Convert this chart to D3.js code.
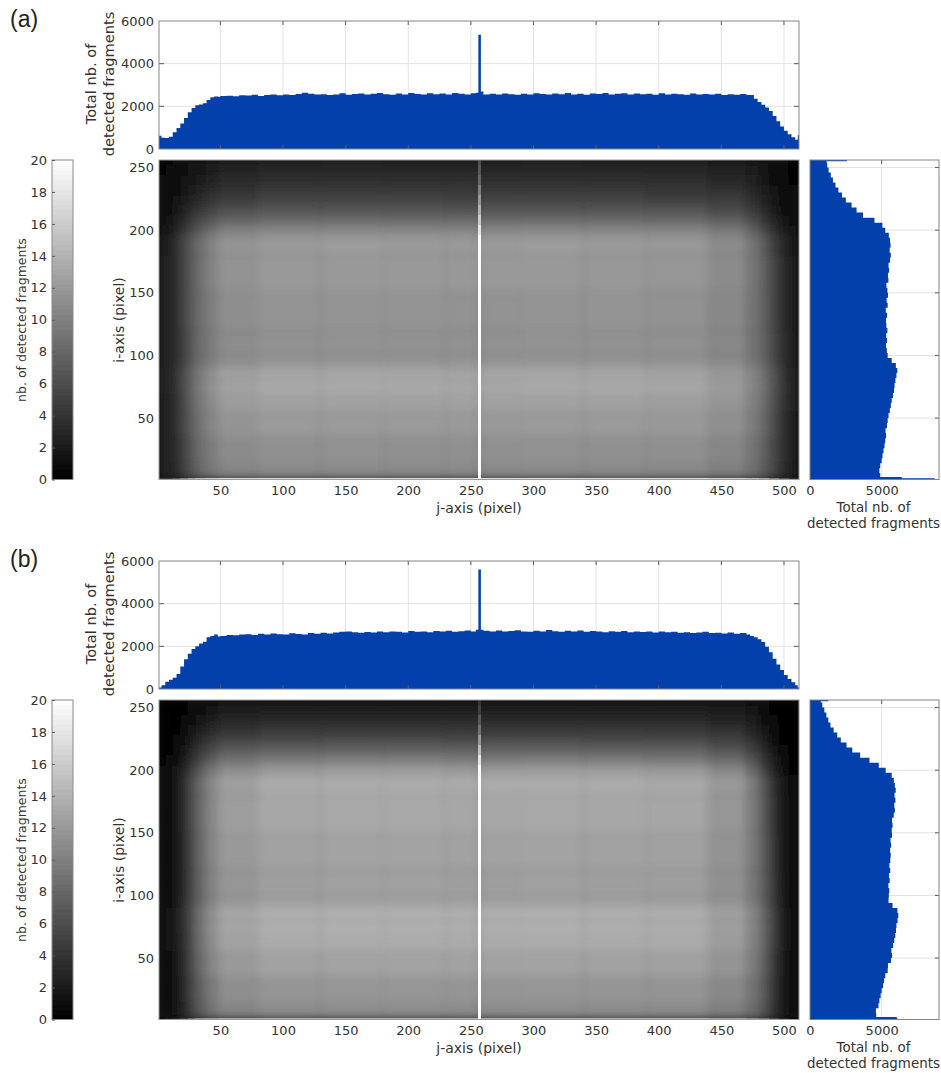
<!DOCTYPE html>
<html>
<head>
<meta charset="utf-8">
<script src="https://d3js.org/d3.v7.min.js"></script>
<style>
    body { margin: 0; background: #fff; }
    svg { display: block; }
    text { font-family: "DejaVu Sans", sans-serif; fill: #333; }
</style>
</head>
<body>
<svg id="chart" width="941" height="1073"></svg>
<script>
// --- 1. DATA ---

var jTicks = [50, 100, 150, 200, 250, 300, 350, 400, 450, 500];
var iTicks = [50, 100, 150, 200, 250];
var topTicks = [0, 2000, 4000, 6000];
var sideTicks = [0, 5000];
var barTicks = [0, 2, 4, 6, 8, 10, 12, 14, 16, 18, 20];

// column totals: value holds from this j until the next one
var topJ = [1, 3, 6, 9, 12, 15, 18, 21, 24, 27, 30, 33, 36, 39, 42, 45, 48,
    50, 55, 60, 65, 70, 75, 80, 85, 90, 95,
    100, 105, 110, 115, 120, 125, 130, 135, 140, 145,
    150, 155, 160, 165, 170, 175, 180, 185, 190, 195,
    200, 205, 210, 215, 220, 225, 230, 235, 240, 245, 250,
    254, 256, 258,
    260, 265, 270, 275, 280, 285, 290, 295, 300, 305,
    310, 315, 320, 325, 330, 335, 340, 345, 350, 355,
    360, 365, 370, 375, 380, 385, 390, 395, 400, 405,
    410, 415, 420, 425, 430, 435, 440, 445, 450, 455,
    460, 465, 470,
    473, 476, 479, 482, 485, 488, 491, 494, 497, 500, 503, 506, 509, 511, 512];

var topA = [620, 530, 520, 580, 790, 980, 1200, 1450, 1720, 1920, 2050, 2090, 2150, 2300, 2420, 2460, 2450,
    2480, 2500, 2470, 2520, 2510, 2540, 2490, 2530, 2550, 2520,
    2560, 2530, 2580, 2640, 2590, 2550, 2570, 2530, 2560, 2610,
    2540, 2580, 2600, 2550, 2590, 2620, 2570, 2540, 2600, 2560,
    2630, 2580, 2550, 2610, 2570, 2600, 2560, 2620, 2590, 2550, 2610,
    2640, 5350, 2700,
    2560, 2590, 2550, 2600, 2570, 2540, 2590, 2560, 2610, 2580,
    2550, 2600, 2570, 2620, 2560, 2590, 2540, 2600, 2580, 2620,
    2560, 2590, 2610, 2550, 2600, 2570, 2590, 2540, 2610, 2560,
    2590, 2570, 2540, 2600, 2560, 2580, 2550, 2590, 2530, 2570,
    2540, 2580, 2530,
    2530, 2350, 2200, 2080, 1950, 1780, 1550, 1300, 1050, 860, 690, 550, 430, 640, 640];

var topB = [70, 170, 340, 430, 530, 700, 1050, 1400, 1650, 1880, 2000, 2130, 2220, 2420, 2480, 2560, 2460,
    2480, 2530, 2520, 2550, 2570, 2530, 2590, 2550, 2600, 2570,
    2560, 2610, 2580, 2560, 2620, 2590, 2640, 2600, 2650, 2680,
    2700, 2660, 2640, 2670, 2650, 2690, 2660, 2700, 2680, 2650,
    2720, 2680, 2700, 2660, 2720, 2690, 2730, 2680, 2710, 2740, 2700,
    2780, 5600, 2780,
    2730, 2700, 2740, 2690, 2720, 2750, 2700, 2680, 2730, 2700,
    2760, 2710, 2680, 2730, 2700, 2740, 2680, 2720, 2690, 2660,
    2710, 2680, 2720, 2660, 2700, 2670, 2690, 2650, 2700, 2660,
    2680, 2640, 2660, 2620, 2650, 2680, 2620, 2640, 2600, 2650,
    2590, 2620, 2560,
    2480, 2420, 2330, 2200, 1980, 1720, 1420, 1150, 890, 660, 470, 320, 170, 70, 30];

// row totals: value holds from this i until the next one
var sideI = [1, 2, 3,
    6, 10, 14, 18, 22, 26, 30, 34, 38, 42,
    46, 50, 54, 58, 62, 66, 70, 74, 78, 82,
    86, 90, 94, 98, 102, 106, 110, 114, 118, 122,
    126, 130, 134, 138, 142, 146, 150, 154, 158, 162,
    166, 170, 174, 178, 182, 186, 190, 194, 198, 202,
    206, 210, 214, 218, 222, 226, 230, 234, 238, 242,
    246, 250, 254, 255, 256];

var sideA = [8700, 6400, 4900,
    4840, 4900, 5000, 5060, 5130, 5200, 5250, 5310, 5270, 5370,
    5420, 5480, 5570, 5640, 5700, 5790, 5860, 5900, 5960, 6030,
    6090, 5990, 5700, 5420, 5360, 5300, 5370, 5320, 5400, 5330,
    5300, 5380, 5290, 5420, 5350, 5440, 5400, 5330, 5470, 5440,
    5520, 5480, 5580, 5640, 5560, 5620, 5580, 5500, 5250, 5050,
    4500, 3700, 3250, 2900, 2500, 2230, 1980, 1780, 1600, 1450,
    1300, 1200, 1150, 2570, 2570];

var sideB = [6100, 6050, 4620,
    4600, 4780, 4840, 4930, 5000, 5100, 5170, 5250, 5420, 5440,
    5650, 5720, 5680, 5800, 5880, 5950, 6000, 6030, 6110, 6160,
    6100, 5760, 5480, 5500, 5530, 5470, 5560, 5510, 5600, 5540,
    5600, 5630, 5590, 5660, 5620, 5720, 5700, 5760, 5720, 5840,
    5920, 5880, 5960, 5900, 5980, 5920, 5850, 5700, 5280, 4800,
    4150, 3500, 2950, 2550, 2150, 1900, 1650, 1430, 1280, 1140,
    1000, 860, 750, 1280, 1280];

// Heatmap: mean count of each region estimated by eye. The per-pixel grain of the
// reference cannot be read, so it is not reproduced.
var heatJ = [1, 6, 12, 18, 24, 30, 38, 48, 80, 130, 180, 230, 256, 258, 290, 340, 390, 440, 470, 480, 488, 496, 504, 512];
var heatI = [256, 252, 244, 236, 228, 220, 212, 204, 196, 180, 150, 120, 100, 90, 80, 70, 55, 35, 15, 4, 2, 1];

var heatA = [
    [.4, .5, .8, 1.1, 1.4, 1.7, 2.1, 2.6, 2.8, 2.9, 2.8, 2.7, 6, 2.8, 2.9, 2.8, 2.7, 2.4, 1.9, 1.4, .9, .6, .4],
    [.5, .6, .9, 1.2, 1.5, 1.9, 2.3, 2.8, 3.1, 3.1, 3, 3, 7, 3, 3.1, 3, 2.9, 2.6, 2.1, 1.5, 1, .6, .4],
    [.6, .7, 1, 1.4, 1.8, 2.2, 2.7, 3.3, 3.7, 3.7, 3.6, 3.6, 8, 3.6, 3.7, 3.6, 3.5, 3.1, 2.5, 1.8, 1.2, .7, .5],
    [.7, .8, 1.2, 1.7, 2.2, 2.7, 3.3, 4, 4.4, 4.5, 4.4, 4.3, 10, 4.4, 4.5, 4.4, 4.2, 3.8, 3, 2.2, 1.4, .8, .6],
    [.8, 1, 1.4, 2.1, 2.7, 3.4, 4.2, 4.9, 5.3, 5.4, 5.3, 5.2, 12, 5.3, 5.4, 5.3, 5.1, 4.7, 3.7, 2.7, 1.7, 1, .7],
    [1, 1.2, 1.8, 2.7, 3.5, 4.4, 5.3, 6.2, 6.6, 6.7, 6.6, 6.5, 14, 6.6, 6.7, 6.6, 6.4, 5.8, 4.6, 3.4, 2.1, 1.2, .8],
    [1.3, 1.5, 2.3, 3.4, 4.5, 5.7, 6.8, 7.9, 8.4, 8.5, 8.4, 8.3, 16, 8.4, 8.5, 8.4, 8.2, 7.4, 5.9, 4.4, 2.8, 1.6, 1.1],
    [1.7, 1.9, 2.9, 4.4, 5.7, 7.2, 8.6, 10, 10.6, 10.7, 10.6, 10.5, 18, 10.6, 10.7, 10.6, 10.4, 9.4, 7.6, 5.6, 3.6, 2.1, 1.4],
    [2.4, 2.4, 3.6, 5.5, 7.1, 8.8, 10.3, 11.6, 12.1, 12.2, 12.1, 12, 20, 12.1, 12.2, 12.1, 11.9, 10.9, 9.2, 7.2, 4.9, 2.9, 1.9],
    [2.5, 2.5, 3.7, 5.6, 7.2, 8.9, 10.3, 11.5, 12, 12, 12, 11.9, 20, 12, 12, 11.9, 11.8, 10.9, 9.3, 7.6, 5.3, 3.2, 2],
    [2.5, 2.5, 3.6, 5.5, 7.1, 8.7, 10, 11.1, 11.6, 11.6, 11.6, 11.5, 20, 11.5, 11.6, 11.6, 11.4, 10.7, 9.2, 7.6, 5.4, 3.4, 2.1],
    [2.5, 2.5, 3.6, 5.4, 7, 8.6, 9.9, 11, 11.4, 11.5, 11.4, 11.4, 20, 11.4, 11.5, 11.4, 11.3, 10.6, 9.2, 7.7, 5.6, 3.5, 2.2],
    [2.6, 2.6, 3.7, 5.5, 7.1, 8.8, 10.1, 11.2, 11.7, 11.7, 11.7, 11.6, 20, 11.6, 11.7, 11.7, 11.5, 10.8, 9.4, 7.9, 5.7, 3.7, 2.3],
    [2.9, 2.9, 4.1, 6.1, 7.9, 9.9, 11.4, 12.6, 13.1, 13.2, 13.1, 13, 20, 13.1, 13.2, 13.1, 12.9, 12.1, 10.6, 8.8, 6.4, 4, 2.6],
    [2.9, 2.9, 4.2, 6.2, 8, 10, 11.5, 12.8, 13.3, 13.3, 13.3, 13.2, 20, 13.2, 13.3, 13.3, 13.1, 12.2, 10.7, 8.9, 6.5, 4.1, 2.6],
    [2.8, 2.8, 4, 5.9, 7.7, 9.5, 11, 12.2, 12.7, 12.7, 12.7, 12.6, 20, 12.6, 12.7, 12.7, 12.5, 11.7, 10.2, 8.5, 6.2, 3.9, 2.5],
    [2.7, 2.7, 3.8, 5.7, 7.3, 9.1, 10.5, 11.6, 12.1, 12.1, 12.1, 12, 20, 12, 12.1, 12.1, 11.9, 11.2, 9.7, 8.1, 5.9, 3.7, 2.4],
    [2.6, 2.6, 3.6, 5.3, 6.9, 8.6, 9.9, 10.9, 11.3, 11.4, 11.3, 11.3, 20, 11.3, 11.4, 11.3, 11.2, 10.5, 9.1, 7.6, 5.5, 3.5, 2.3],
    [2.5, 2.5, 3.4, 5.1, 6.6, 8.2, 9.5, 10.4, 10.8, 10.9, 10.8, 10.8, 20, 10.8, 10.9, 10.8, 10.7, 10, 8.7, 7.2, 5.3, 3.4, 2.2],
    [2.4, 2.4, 3.4, 5, 6.5, 8, 9.3, 10.2, 10.6, 10.7, 10.6, 10.6, 20, 10.6, 10.7, 10.6, 10.5, 9.8, 8.5, 7.1, 5.2, 3.3, 2.2],
    [5, 5, 7, 10, 13, 15, 16, 17, 17.5, 17.5, 17.5, 17.5, 20, 17.5, 17.5, 17.5, 17.5, 16.5, 15, 13, 10, 7, 4]
];

var heatB = [
    [.1, .1, .2, .3, .6, .9, 1.3, 1.6, 1.8, 1.9, 1.9, 1.9, 4, 1.9, 1.9, 1.9, 1.8, 1.6, 1.1, .7, .3, .1, .1],
    [.1, .2, .3, .5, .8, 1.2, 1.7, 2.1, 2.3, 2.4, 2.4, 2.4, 5, 2.4, 2.4, 2.4, 2.3, 2, 1.5, .9, .4, .2, .1],
    [.2, .2, .4, .7, 1.1, 1.7, 2.3, 2.9, 3.2, 3.3, 3.3, 3.2, 7, 3.3, 3.3, 3.3, 3.2, 2.8, 2, 1.3, .6, .2, .1],
    [.2, .3, .5, 1, 1.6, 2.4, 3.2, 4, 4.4, 4.5, 4.5, 4.4, 9, 4.5, 4.5, 4.5, 4.3, 3.8, 2.8, 1.8, .8, .3, .1],
    [.3, .4, .7, 1.3, 2.1, 3.2, 4.3, 5.3, 5.8, 5.9, 5.9, 5.8, 12, 5.9, 5.9, 5.8, 5.7, 5, 3.8, 2.4, 1.1, .4, .2],
    [.3, .5, .9, 1.7, 2.9, 4.3, 5.7, 7.1, 7.7, 7.8, 7.8, 7.7, 15, 7.8, 7.8, 7.7, 7.5, 6.6, 5, 3.2, 1.5, .6, .2],
    [.4, .7, 1.1, 2.2, 3.7, 5.5, 7.3, 9, 9.8, 10, 10, 9.8, 18, 9.9, 10, 9.9, 9.6, 8.5, 6.4, 4.1, 2, .8, .3],
    [.6, 1, 1.5, 2.9, 4.9, 7.1, 9.3, 11.1, 12.1, 12.3, 12.3, 12.1, 20, 12.2, 12.3, 12.2, 12, 10.7, 8.1, 5.2, 2.7, 1.1, .5],
    [.7, 1.3, 1.9, 3.5, 5.9, 8.3, 10.7, 12.5, 13.3, 13.4, 13.4, 13.3, 20, 13.4, 13.4, 13.4, 13.2, 12, 9.7, 6.6, 3.6, 1.5, .7],
    [.7, 1.3, 1.9, 3.5, 5.9, 8.3, 10.7, 12.4, 13.1, 13.2, 13.2, 13.1, 20, 13.1, 13.2, 13.1, 13, 11.8, 9.7, 7, 3.9, 1.6, .7],
    [.7, 1.3, 1.8, 3.4, 5.7, 8.1, 10.4, 12, 12.7, 12.8, 12.8, 12.7, 20, 12.7, 12.8, 12.7, 12.6, 11.5, 9.6, 7.1, 4.1, 1.7, .8],
    [.7, 1.3, 1.8, 3.4, 5.6, 8, 10.2, 11.8, 12.5, 12.6, 12.6, 12.5, 20, 12.5, 12.6, 12.5, 12.4, 11.3, 9.5, 7.2, 4.3, 1.8, .8],
    [.7, 1.3, 1.9, 3.5, 5.7, 8.1, 10.4, 11.9, 12.6, 12.7, 12.7, 12.6, 20, 12.6, 12.7, 12.6, 12.5, 11.5, 9.7, 7.3, 4.4, 1.9, .8],
    [.8, 1.4, 2.1, 3.8, 6.3, 9, 11.4, 13.1, 13.8, 13.9, 13.9, 13.8, 20, 13.8, 13.9, 13.8, 13.7, 12.6, 10.6, 8.1, 4.9, 2.1, .9],
    [.8, 1.4, 2.1, 3.8, 6.3, 9, 11.3, 13, 13.7, 13.8, 13.8, 13.7, 20, 13.7, 13.8, 13.7, 13.6, 12.5, 10.6, 8, 4.9, 2.1, .9],
    [.8, 1.4, 2, 3.7, 6.1, 8.8, 11, 12.7, 13.4, 13.5, 13.5, 13.4, 20, 13.4, 13.5, 13.4, 13.3, 12.2, 10.3, 7.9, 4.8, 2, .9],
    [.7, 1.3, 1.9, 3.5, 5.8, 8.3, 10.4, 12, 12.7, 12.8, 12.8, 12.7, 20, 12.7, 12.8, 12.7, 12.6, 11.6, 9.8, 7.4, 4.5, 1.9, .8],
    [.7, 1.2, 1.8, 3.2, 5.3, 7.6, 9.6, 11.1, 11.7, 11.8, 11.8, 11.7, 20, 11.7, 11.8, 11.7, 11.6, 10.7, 9, 6.9, 4.2, 1.8, .8],
    [.6, 1.1, 1.7, 3, 5, 7.2, 9, 10.4, 11, 11.1, 11.1, 11, 20, 11, 11.1, 11, 10.9, 10, 8.5, 6.5, 4, 1.7, .7],
    [.6, 1.1, 1.6, 2.9, 4.9, 7, 8.8, 10.1, 10.7, 10.8, 10.8, 10.7, 20, 10.7, 10.8, 10.7, 10.6, 9.7, 8.3, 6.4, 3.9, 1.7, .7],
    [1, 2, 3, 5, 8, 11, 12, 13, 13.5, 13.5, 13.5, 13.5, 20, 13.5, 13.5, 13.5, 13.5, 12.5, 11, 9, 6, 3, 1]
];

// --- 2. LAYOUT AND SCALES ---

var BLUE = "#0340ab";
var GRID = "#e2e2e2";
var FRAME = "#858585";
var TICK = "#5c5c5c";
var FONT = 13;

var xj = d3.scaleLinear().domain([1, 512]).range([159, 799]);
var yTop = d3.scaleLinear().domain([0, 6000]).range([149, 21]);
var yi = d3.scaleLinear().domain([1, 256]).range([479.5, 160]);
var xSide = d3.scaleLinear().domain([0, 9000]).range([810, 939]);
var yBar = d3.scaleLinear().domain([0, 20]).range([479.5, 160]);
var grey = d3.scaleLinear().domain([0, 20]).range(["#000", "#fff"]).clamp(true);
var plain = d3.format("d");

var svg = d3.select("#chart");

// soft blur for the heatmap mosaic, so its region boundaries don't show as blocks
var defs = svg.append("defs");
defs.append("filter").attr("id", "soften")
    .append("feGaussianBlur").attr("stdDeviation", 4);
defs.append("clipPath").attr("id", "heatClip")
    .append("rect")
    .attr("x", xj(1)).attr("y", yi(256))
    .attr("width", xj(512) - xj(1)).attr("height", yi(1) - yi(256));

// --- 3. DRAWING ---

function drawFrame(g, x0, y0, x1, y1, color) {
    g.append("rect")
        .attr("x", x0).attr("y", y0)
        .attr("width", x1 - x0).attr("height", y1 - y0)
        .attr("fill", "none")
        .attr("stroke", color || FRAME);
}

function styleAxis(axis) {
    axis.select(".domain").remove();
    axis.selectAll("text")
        .style("font-size", FONT + "px")
        .style("font-family", '"DejaVu Sans"')
        .attr("fill", "#333");
}

function drawTopHist(g, values) {
    var grid = g.append("g").attr("stroke", GRID);
    grid.selectAll("line.v").data(jTicks).enter().append("line").attr("class", "v")
        .attr("x1", xj).attr("x2", xj).attr("y1", yTop(0)).attr("y2", yTop(6000));
    grid.selectAll("line.h").data(topTicks.slice(1, 3)).enter().append("line").attr("class", "h")
        .attr("x1", xj(1)).attr("x2", xj(512)).attr("y1", yTop).attr("y2", yTop);

    var area = d3.area()
        .x(function (d, k) { return xj(topJ[k]); })
        .y0(yTop(0))
        .y1(function (d) { return yTop(d); })
        .curve(d3.curveStepAfter);
    g.append("path").attr("d", area(values)).attr("fill", BLUE);

    // inward ticks, MATLAB style
    var ticks = g.append("g").attr("stroke", TICK);
    jTicks.forEach(function (t) {
        ticks.append("line").attr("x1", xj(t)).attr("x2", xj(t)).attr("y1", yTop(6000)).attr("y2", yTop(6000) + 4);
        ticks.append("line").attr("x1", xj(t)).attr("x2", xj(t)).attr("y1", yTop(0)).attr("y2", yTop(0) - 4);
    });
    topTicks.slice(1, 3).forEach(function (t) {
        ticks.append("line").attr("x1", xj(1)).attr("x2", xj(1) + 5).attr("y1", yTop(t)).attr("y2", yTop(t));
        ticks.append("line").attr("x1", xj(512) - 5).attr("x2", xj(512)).attr("y1", yTop(t)).attr("y2", yTop(t));
    });
    drawFrame(g, xj(1), yTop(6000), xj(512), yTop(0));

    g.append("g")
        .attr("transform", "translate(" + xj(1) + ",0)")
        .call(d3.axisLeft(yTop).tickValues(topTicks).tickFormat(plain).tickSize(0).tickPadding(5))
        .call(styleAxis);

    var label = g.append("text")
        .attr("transform", "translate(96,84) rotate(-90)")
        .attr("text-anchor", "middle")
        .style("font-size", "14.6px");
    label.append("tspan").attr("x", 0).attr("dy", 0).text("Total nb. of");
    label.append("tspan").attr("x", 0).attr("dy", 18).text("detected fragments");
}

function drawHeat(g, grid) {
    var lastRow = grid.length - 1;
    var spikeCol = heatJ.indexOf(256);

    function addCell(layer, r, c, value) {
        layer.append("rect")
            .attr("x", xj(heatJ[c]))
            .attr("width", xj(heatJ[c + 1]) - xj(heatJ[c]))
            .attr("y", yi(heatI[r]))
            .attr("height", yi(heatI[r + 1]) - yi(heatI[r]))
            .attr("fill", grey(value));
    }

    var clipped = g.append("g").attr("clip-path", "url(#heatClip)");
    // dark backing: the blur fades towards it at the frame instead of towards white
    clipped.append("rect")
        .attr("x", xj(1)).attr("y", yi(256))
        .attr("width", xj(512) - xj(1)).attr("height", yi(1) - yi(256))
        .attr("fill", "#111");

    // smooth field: bright last row and column j=256 are left out and drawn sharp on top
    var field = clipped.append("g").attr("filter", "url(#soften)");
    grid.forEach(function (row, r) {
        row.forEach(function (v, c) {
            var src = grid[Math.min(r, lastRow - 1)];
            addCell(field, r, c, src[c === spikeCol ? c - 1 : c]);
        });
    });

    var sharp = clipped.append("g").attr("shape-rendering", "crispEdges");
    grid.forEach(function (row, r) { addCell(sharp, r, spikeCol, row[spikeCol]); });
    grid[lastRow].forEach(function (v, c) { addCell(sharp, lastRow, c, v); });

    drawFrame(g, xj(1), yi(256), xj(512), yi(1), "#9a9a9a");

    g.append("g")
        .attr("transform", "translate(0," + yi(1) + ")")
        .call(d3.axisBottom(xj).tickValues(jTicks).tickSize(0).tickPadding(6))
        .call(styleAxis);
    g.append("g")
        .attr("transform", "translate(" + xj(1) + ",0)")
        .call(d3.axisLeft(yi).tickValues(iTicks).tickSize(0).tickPadding(5))
        .call(styleAxis);

    g.append("text")
        .attr("x", 479).attr("y", 513)
        .attr("text-anchor", "middle")
        .style("font-size", "14px")
        .text("j-axis (pixel)");
    g.append("text")
        .attr("transform", "translate(124,320) rotate(-90)")
        .attr("text-anchor", "middle")
        .style("font-size", "14px")
        .text("i-axis (pixel)");
}

function drawSideHist(g, values) {
    var grid = g.append("g").attr("stroke", GRID);
    grid.selectAll("line.h").data(iTicks).enter().append("line").attr("class", "h")
        .attr("x1", xSide(0)).attr("x2", xSide(9000)).attr("y1", yi).attr("y2", yi);
    grid.append("line")
        .attr("x1", xSide(5000)).attr("x2", xSide(5000)).attr("y1", yi(1)).attr("y2", yi(256));

    // value holds from this i to the next one, which means stepping before along y
    var area = d3.area()
        .y(function (d, k) { return yi(sideI[k]); })
        .x0(xSide(0))
        .x1(function (d) { return xSide(d); })
        .curve(d3.curveStepBefore);
    g.append("path").attr("d", area(values)).attr("fill", BLUE);

    var ticks = g.append("g").attr("stroke", TICK);
    iTicks.forEach(function (t) {
        ticks.append("line").attr("x1", xSide(9000) - 4).attr("x2", xSide(9000)).attr("y1", yi(t)).attr("y2", yi(t));
    });
    ticks.append("line").attr("x1", xSide(5000)).attr("x2", xSide(5000)).attr("y1", yi(256)).attr("y2", yi(256) + 4);
    drawFrame(g, xSide(0), yi(256), xSide(9000), yi(1));

    g.append("g")
        .attr("transform", "translate(0," + yi(1) + ")")
        .call(d3.axisBottom(xSide).tickValues(sideTicks).tickFormat(plain).tickSize(0).tickPadding(6))
        .call(styleAxis);

    var label = g.append("text").attr("text-anchor", "middle").style("font-size", "13.4px");
    label.append("tspan").attr("x", 873.5).attr("y", 512).text("Total nb. of");
    label.append("tspan").attr("x", 873.5).attr("y", 527.5).text("detected fragments");
}

function drawColorbar(g) {
    var levels = d3.range(64).map(function (k) { return k * 20 / 64; });
    g.append("g").attr("shape-rendering", "crispEdges")
        .selectAll("rect").data(levels).enter().append("rect")
        .attr("x", 52).attr("width", 21)
        .attr("y", function (d) { return yBar(d + 20 / 64); })
        .attr("height", function (d) { return yBar(d) - yBar(d + 20 / 64) + 0.5; })
        .attr("fill", function (d) { return grey(d + 10 / 64); });
    drawFrame(g, 52, yBar(20), 73, yBar(0), "#8a8a8a");

    var axis = g.append("g")
        .attr("transform", "translate(52,0)")
        .call(d3.axisLeft(yBar).tickValues(barTicks).tickSize(-3).tickPadding(5))
        .call(styleAxis);
    axis.selectAll("line").attr("stroke", TICK);

    g.append("text")
        .attr("transform", "translate(26,320) rotate(-90)")
        .attr("text-anchor", "middle")
        .style("font-size", "12.5px")
        .text("nb. of detected fragments");
}

function drawPanel(name, dy, topValues, heatValues, sideValues) {
    var g = svg.append("g").attr("transform", "translate(0," + dy + ")");
    g.append("text")
        .attr("x", 10).attr("y", 27)
        .style("font-family", '"Liberation Sans", Arial, sans-serif')
        .style("font-size", "23px")
        .style("fill", "#222")
        .text(name);
    drawColorbar(g);
    drawTopHist(g, topValues);
    drawHeat(g, heatValues);
    drawSideHist(g, sideValues);
}

drawPanel("(a)", 0, topA, heatA, sideA);
drawPanel("(b)", 540, topB, heatB, sideB);
</script>
</body>
</html>
